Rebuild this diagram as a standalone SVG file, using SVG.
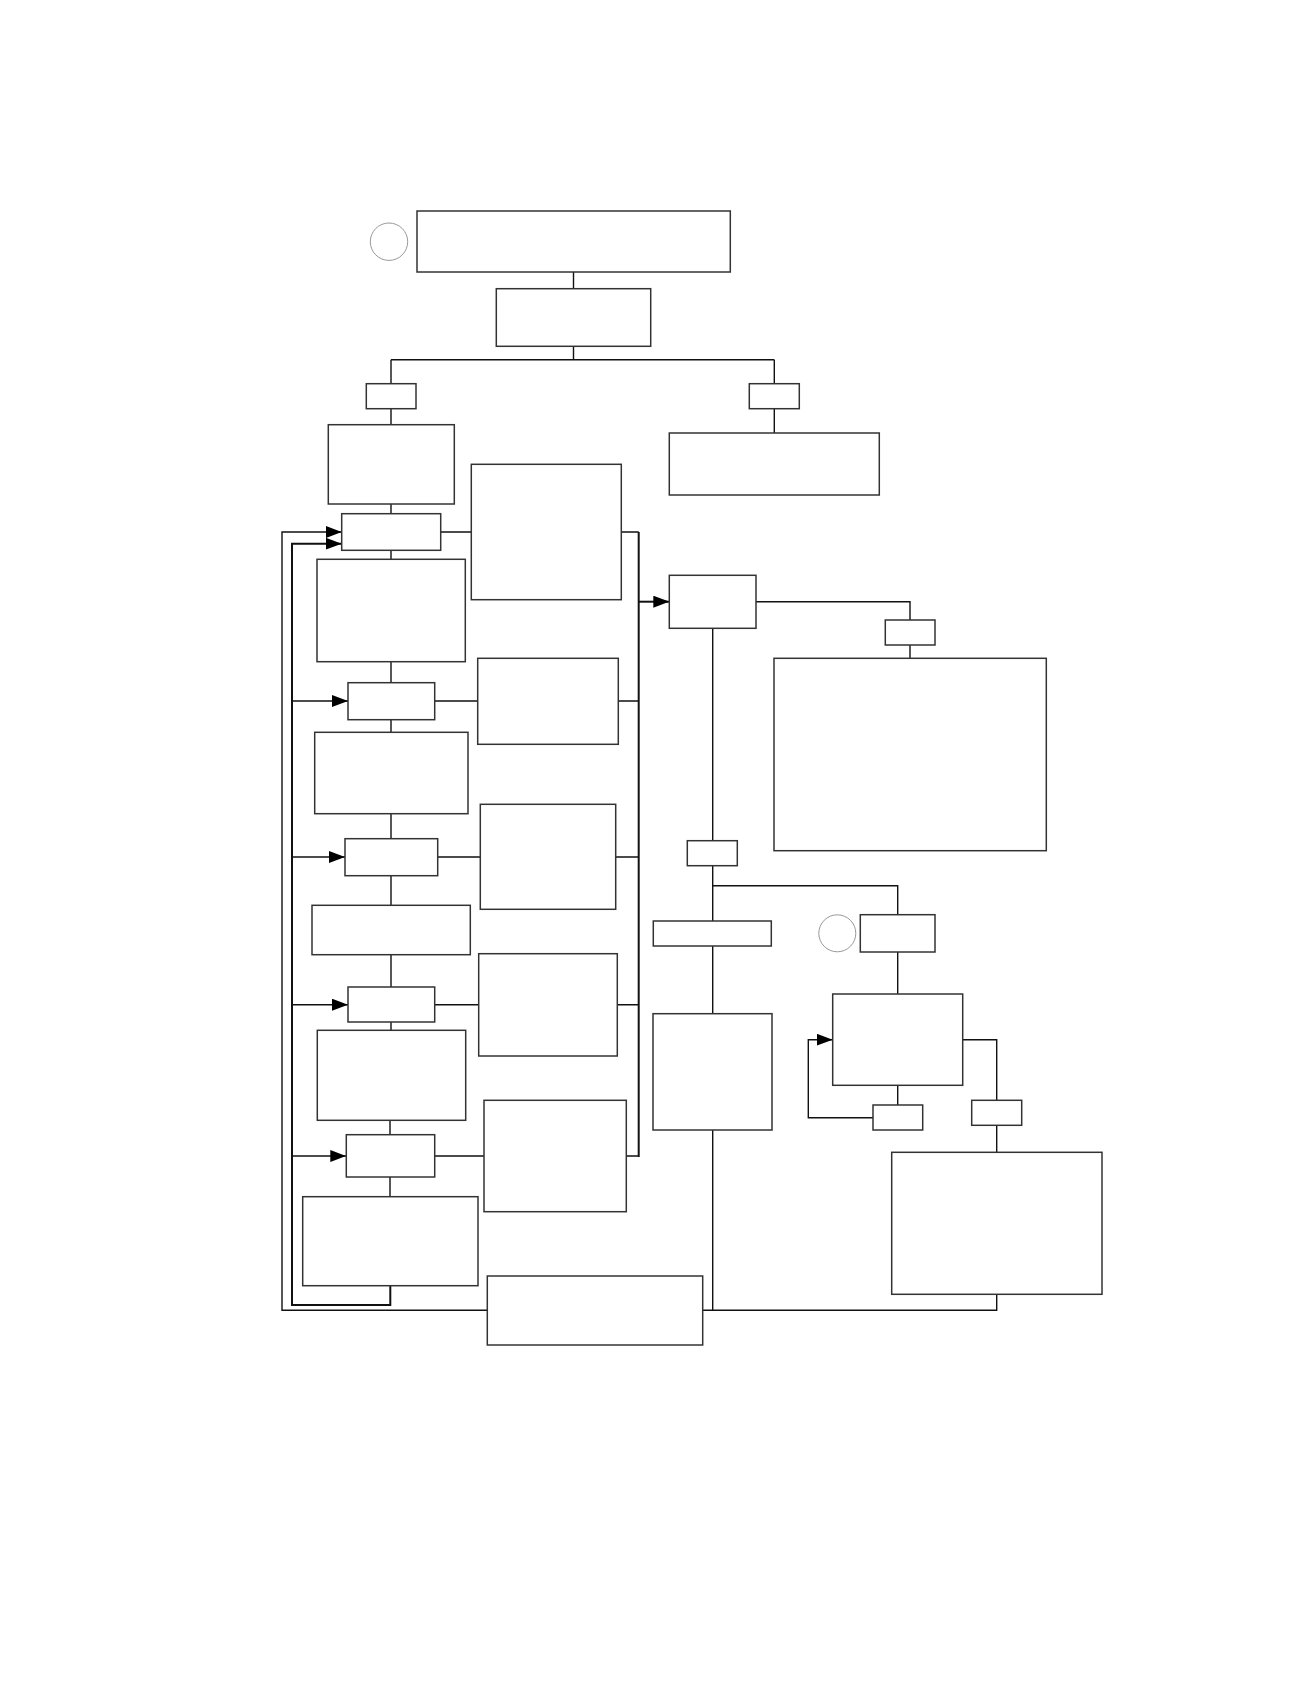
<svg xmlns="http://www.w3.org/2000/svg" width="1312" height="1687" viewBox="0 0 1312 1687">
<style>
.n{fill:#fff;stroke:#333;stroke-width:1.5}
.c{fill:none;stroke:#111;stroke-width:1.4}
.t{fill:none;stroke:#111;stroke-width:2}
.o{fill:none;stroke:#999;stroke-width:1}
</style>
<defs>
<marker id="ah" markerUnits="userSpaceOnUse" markerWidth="16" markerHeight="12" refX="16" refY="6" orient="auto">
<path d="M0,0 L16,6 L0,12 z" fill="#000"/>
</marker>
</defs>
<rect width="1312" height="1687" fill="#fff"/>
<g id="connectors">
<path class="c" d="M573.5,272 V288.7"/>
<path class="c" d="M573.5,346.3 V359.7 M391,359.7 H774.3 M391,359.7 V383.7 M774.3,359.7 V383.7"/>
<path class="c" d="M391,408.7 V424.7 M774.3,408.7 V433"/>
<path class="c" d="M391,504 V513.7 M391,550.3 V559.3 M391,661.7 V682.7 M391,719.7 V732.3 M391,813.7 V838.7 M391,875.7 V905.3 M391,954.7 V987 M391,1022 V1030.3 M390,1120.3 V1134.7 M390,1177 V1196.7"/>
<path class="c" d="M440.7,532 H471.3 M621.3,532 H638.7"/>
<path class="c" d="M434.7,701 H477.7 M618.3,701 H638.7"/>
<path class="c" d="M437.7,857 H480.3 M615.7,857 H638.7"/>
<path class="c" d="M434.7,1004.7 H478.7 M617.3,1004.7 H638.7"/>
<path class="c" d="M434.7,1156 H484 M626.3,1156 H638.7"/>
<path class="t" d="M638.7,532 V1157"/>
<path class="t" d="M638.7,601.7 H669.3" marker-end="url(#ah)"/>
<path class="t" d="M390.3,1285.7 V1305 H292 V543.7 H341.7" marker-end="url(#ah)"/>
<path class="c" d="M996.7,1294.3 V1310.3 H282 V532 H341.7" marker-end="url(#ah)"/>
<path class="c" d="M292,701 H348" marker-end="url(#ah)"/>
<path class="c" d="M292,857 H345" marker-end="url(#ah)"/>
<path class="c" d="M292,1004.7 H348" marker-end="url(#ah)"/>
<path class="c" d="M292,1156 H346.3" marker-end="url(#ah)"/>
<path class="c" d="M756,601.7 H910 V620"/>
<path class="c" d="M910,645 V658.3"/>
<path class="c" d="M712.7,628.3 V840.7 M712.7,865.7 V921 M712.7,885.7 H897.7 V914.7 M712.7,946 V1013.7 M712.7,1130 V1310.3"/>
<path class="c" d="M897.7,952 V994 M897.7,1085.3 V1105"/>
<path class="c" d="M873,1117.7 H808.3 V1039.7 H832.7" marker-end="url(#ah)"/>
<path class="c" d="M962.7,1039.7 H996.7 V1100.3 M996.7,1125.3 V1152.3"/>
</g>
<g id="n1"><rect class="n" x="417" y="211" width="313.3" height="61"/></g>
<g id="c1"><circle class="o" cx="389" cy="241.7" r="18.7"/></g>
<g id="n2"><rect class="n" x="496.3" y="288.7" width="154.4" height="57.6"/></g>
<g id="n3"><rect class="n" x="366.3" y="383.7" width="49.7" height="25"/></g>
<g id="n4"><rect class="n" x="749.3" y="383.7" width="50" height="25"/></g>
<g id="n5"><rect class="n" x="328.3" y="424.7" width="126" height="79.3"/></g>
<g id="n6"><rect class="n" x="669.3" y="433" width="210" height="62"/></g>
<g id="n7"><rect class="n" x="341.7" y="513.7" width="99" height="36.6"/></g>
<g id="n8"><rect class="n" x="471.3" y="464.3" width="150" height="135.4"/></g>
<g id="n9"><rect class="n" x="317" y="559.3" width="148.3" height="102.4"/></g>
<g id="n10"><rect class="n" x="669.3" y="575.3" width="86.7" height="53"/></g>
<g id="n11"><rect class="n" x="885.3" y="620" width="49.7" height="25"/></g>
<g id="n12"><rect class="n" x="774" y="658.3" width="272.3" height="192.4"/></g>
<g id="n13"><rect class="n" x="348" y="682.7" width="86.7" height="37"/></g>
<g id="n14"><rect class="n" x="477.7" y="658.3" width="140.6" height="86"/></g>
<g id="n15"><rect class="n" x="314.7" y="732.3" width="153.3" height="81.4"/></g>
<g id="n16"><rect class="n" x="345" y="838.7" width="92.7" height="37"/></g>
<g id="n17"><rect class="n" x="480.3" y="804.3" width="135.4" height="105"/></g>
<g id="n18"><rect class="n" x="687.3" y="840.7" width="50" height="25"/></g>
<g id="n19"><rect class="n" x="312" y="905.3" width="158.3" height="49.4"/></g>
<g id="n20"><rect class="n" x="653.3" y="921" width="118" height="25"/></g>
<g id="c2"><circle class="o" cx="837.3" cy="933.3" r="18.5"/></g>
<g id="n21"><rect class="n" x="860.3" y="914.7" width="74.7" height="37.3"/></g>
<g id="n22"><rect class="n" x="348" y="987" width="86.7" height="35"/></g>
<g id="n23"><rect class="n" x="478.7" y="953.7" width="138.6" height="102.3"/></g>
<g id="n24"><rect class="n" x="832.7" y="994" width="130" height="91.3"/></g>
<g id="n25"><rect class="n" x="653" y="1013.7" width="119" height="116.3"/></g>
<g id="n26"><rect class="n" x="317.3" y="1030.3" width="148.4" height="90"/></g>
<g id="n27"><rect class="n" x="873" y="1105" width="49.7" height="25"/></g>
<g id="n28"><rect class="n" x="971.7" y="1100.3" width="50" height="25"/></g>
<g id="n29"><rect class="n" x="346.3" y="1134.7" width="88.4" height="42.3"/></g>
<g id="n30"><rect class="n" x="484" y="1100.3" width="142.3" height="111.4"/></g>
<g id="n31"><rect class="n" x="891.7" y="1152.3" width="210.3" height="142"/></g>
<g id="n32"><rect class="n" x="302.7" y="1196.7" width="175.3" height="89"/></g>
<g id="n33"><rect class="n" x="487.3" y="1276" width="215.4" height="69"/></g>
</svg>
